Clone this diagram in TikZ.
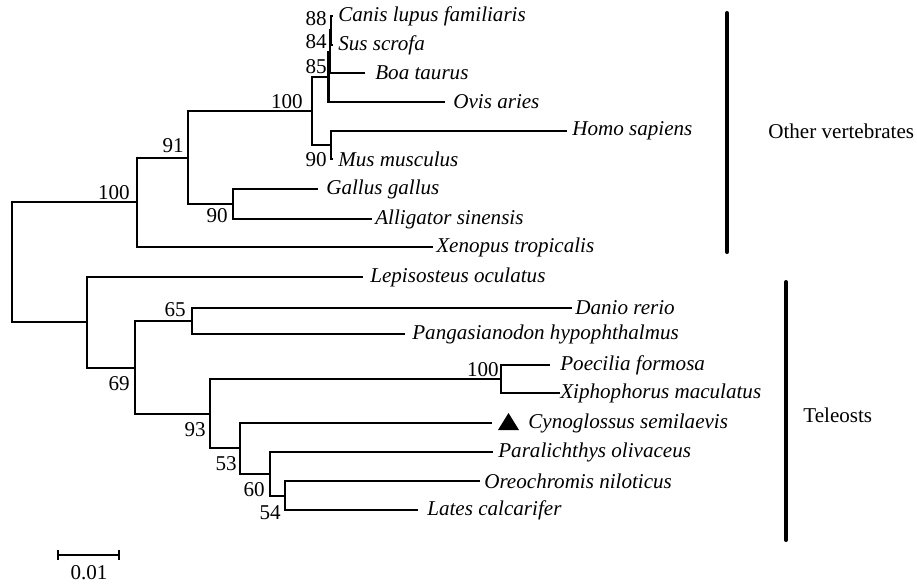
\documentclass[tikz,border=0pt]{standalone}
\usepackage{fontspec}
\setmainfont{Liberation Serif}
\usetikzlibrary{positioning}

\begin{document}
\begin{tikzpicture}[x=0.02cm, y=-0.02cm,
  branch/.style={line width=1.2pt},
  taxon/.style={inner sep=0pt, font=\fontsize{12}{14}\selectfont\itshape},
  boot/.style={anchor=east, inner sep=0pt, font=\fontsize{12}{14}\selectfont},
  cladebar/.style={line width=2.3pt, line cap=round},
  cladename/.style={anchor=west, inner sep=0pt, font=\fontsize{12}{14}\selectfont}
  ]
  \useasboundingbox (0,0) rectangle (917,583);

  % leaf tips
  \coordinate (canis) at (333,16);
  \coordinate (sus) at (333,45);
  \coordinate (boa) at (365,73);
  \coordinate (ovis) at (445,102);
  \coordinate (homo) at (567,131);
  \coordinate (mus) at (333,159);
  \coordinate (gallus) at (318,189);
  \coordinate (alligator) at (372,219);
  \coordinate (xenopus) at (433,247);
  \coordinate (lepisosteus) at (363,277);
  \coordinate (danio) at (572,308);
  \coordinate (pangas) at (405,334);
  \coordinate (poecilia) at (550,365);
  \coordinate (xipho) at (560,393);
  \coordinate (cyno) at (492,423);
  \coordinate (paral) at (493,452);
  \coordinate (oreo) at (480,481);
  \coordinate (lates) at (418,510);

  % inner nodes
  \coordinate (n88) at (331,30);
  \coordinate (n84) at (330,52);
  \coordinate (n85) at (328.5,77);
  \coordinate (nhm) at (331,145);
  \coordinate (nmam) at (312,111);
  \coordinate (nga) at (233,204);
  \coordinate (n91) at (188,158);
  \coordinate (nvert) at (137,202);
  \coordinate (npx) at (501,379);
  \coordinate (n54) at (285,496);
  \coordinate (n60) at (270,474);
  \coordinate (n53) at (240,448);
  \coordinate (n93) at (210,414);
  \coordinate (n65) at (192,321);
  \coordinate (n69) at (135,368);
  \coordinate (ntel) at (87,322);
  \coordinate (root) at (12,262);

  \draw[branch] (n88) |- (canis) (n88) |- (sus)
    (n84) |- (n88) (n84) |- (boa)
    (n85) |- (n84) (n85) |- (ovis)
    (nhm) |- (homo) (nhm) |- (mus)
    (nmam) |- (n85) (nmam) |- (nhm)
    (nga) |- (gallus) (nga) |- (alligator)
    (n91) |- (nmam) (n91) |- (nga)
    (nvert) |- (n91) (nvert) |- (xenopus);
  \draw[branch] (npx) |- (poecilia) (npx) |- (xipho)
    (n54) |- (oreo) (n54) |- (lates)
    (n60) |- (paral) (n60) |- (n54)
    (n53) |- (cyno) (n53) |- (n60)
    (n93) |- (npx) (n93) |- (n53)
    (n65) |- (danio) (n65) |- (pangas)
    (n69) |- (n65) (n69) |- (n93)
    (ntel) |- (lepisosteus) (ntel) |- (n69)
    (root) |- (nvert) (root) |- (ntel);

  % species names
  \node[taxon, right=0.1cm of canis] (t-canis) {Canis lupus familiaris};
  \node[taxon, right=0.1cm of sus] (t-sus) {Sus scrofa};
  \node[taxon, right=0.2cm of boa] (t-boa) {Boa taurus};
  \node[taxon, right=0.16cm of ovis] (t-ovis) {Ovis aries};
  \node[taxon, right=0.1cm of homo] (t-homo) {Homo sapiens};
  \node[taxon, right=0.1cm of mus] (t-mus) {Mus musculus};
  \node[taxon, right=0.16cm of gallus] (t-gallus) {Gallus gallus};
  \node[taxon, right=0.06cm of alligator] (t-alligator) {Alligator sinensis};
  \node[taxon, right=0.06cm of xenopus] (t-xenopus) {Xenopus tropicalis};
  \node[taxon, right=0.14cm of lepisosteus] (t-lepisosteus) {Lepisosteus oculatus};
  \node[taxon, right=0.06cm of danio] (t-danio) {Danio rerio};
  \node[taxon, right=0.14cm of pangas] (t-pangas) {Pangasianodon hypophthalmus};
  \node[taxon, right=0.2cm of poecilia] (t-poecilia) {Poecilia formosa};
  \node[taxon, right=0cm of xipho] (t-xipho) {Xiphophorus maculatus};
  \node[taxon, right=0.72cm of cyno] (t-cyno) {Cynoglossus semilaevis};
  \node[taxon, right=0.1cm of paral] (t-paral) {Paralichthys olivaceus};
  \node[taxon, right=0.08cm of oreo] (t-oreo) {Oreochromis niloticus};
  \node[taxon, right=0.18cm of lates] (t-lates) {Lates calcarifer};

  % marker of the studied species
  \fill (498,430) -- (508.5,413) -- (519,430) -- cycle;

  % bootstrap values
  \node[boot] (b88) at (327,19) {88};
  \node[boot] (b84) at (327,42) {84};
  \node[boot] (b85) at (327,67) {85};
  \node[boot] (bmam) at (303,102) {100};
  \node[boot] (bhm) at (327,160) {90};
  \node[boot] (b91) at (184,146) {91};
  \node[boot] (bvert) at (130,193) {100};
  \node[boot] (bga) at (228,216) {90};
  \node[boot] (b65) at (186,310) {65};
  \node[boot] (b69) at (130,384) {69};
  \node[boot] (b93) at (206,430) {93};
  \node[boot] (b53) at (237,464) {53};
  \node[boot] (b60) at (265,490) {60};
  \node[boot] (b54) at (281,513) {54};
  \node[boot] (bpx) at (499,370) {100};

  % clade bars
  \coordinate (vtop) at (727,13);
  \coordinate (vbot) at (727,252);
  \coordinate (ttop) at (786,282);
  \coordinate (tbot) at (786,540);
  \draw[cladebar] (vtop) -- (vbot);
  \draw[cladebar] (ttop) -- (tbot);
  \node[cladename] (c-vert) at (768,131) {Other vertebrates};
  \node[cladename] (c-tel) at (803,415) {Teleosts};

  % scale
  \coordinate (s1) at (58,555);
  \coordinate (s2) at (119,555);
  \draw[branch] (s1) -- (s2);
  \draw[branch] ([yshift=0.1cm]s1) -- ([yshift=-0.1cm]s1);
  \draw[branch] ([yshift=0.1cm]s2) -- ([yshift=-0.1cm]s2);
  \node[inner sep=0pt, font=\fontsize{12}{14}\selectfont] (s-lbl) at (89,573) {0.01};
\end{tikzpicture}
\end{document}
